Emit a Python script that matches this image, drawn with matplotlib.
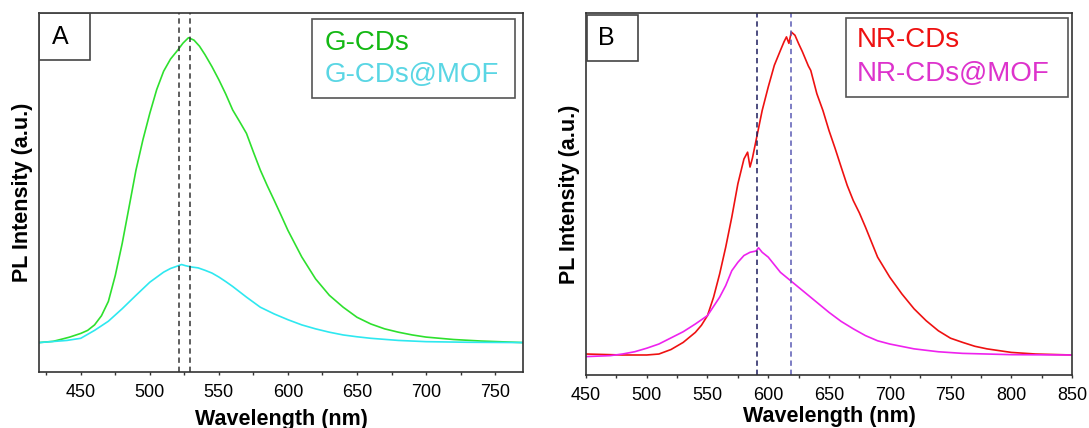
import matplotlib
matplotlib.use('Agg')
import matplotlib.pyplot as plt
from matplotlib.patches import Rectangle
from matplotlib.ticker import MultipleLocator

plt.rcParams['font.family'] = ['Liberation Sans', 'DejaVu Sans']

# --- panel A: green carbon dots, free and inside the MOF ---
wl_g = [420, 430, 437, 442, 450, 455, 460, 465, 470, 475, 480, 485, 490, 495, 500,
        505, 510, 515, 520, 524, 528, 532, 536, 540, 545, 550, 555, 560, 565, 570,
        575, 580, 585, 590, 595, 600, 610, 620, 630, 640, 650, 660, 670, 680, 690,
        700, 720, 740, 770]
g_cds = [0.000, 0.004, 0.012, 0.018, 0.030, 0.040, 0.058, 0.088, 0.135, 0.220, 0.325,
         0.445, 0.566, 0.665, 0.752, 0.830, 0.890, 0.930, 0.958, 0.982, 1.000, 0.992,
         0.972, 0.944, 0.905, 0.862, 0.815, 0.763, 0.725, 0.686, 0.625, 0.566, 0.515,
         0.467, 0.418, 0.368, 0.281, 0.209, 0.155, 0.116, 0.083, 0.061, 0.045, 0.034,
         0.025, 0.018, 0.010, 0.005, 0.000]

wl_gm = [420, 440, 450, 460, 470, 480, 490, 500, 510, 515, 520, 523, 526, 530, 535,
         540, 545, 550, 555, 560, 570, 580, 590, 600, 610, 620, 630, 640, 650, 660,
         680, 700, 730, 770]
g_cds_mof = [0.000, 0.007, 0.014, 0.040, 0.070, 0.111, 0.155, 0.198, 0.231, 0.243,
             0.251, 0.256, 0.252, 0.248, 0.245, 0.237, 0.228, 0.215, 0.200, 0.184,
             0.149, 0.116, 0.094, 0.075, 0.058, 0.045, 0.034, 0.025, 0.019, 0.014,
             0.007, 0.003, 0.001, 0.000]
peaks_a = [521, 529]

# --- panel B: near-red carbon dots, free and inside the MOF ---
wl_r = [450, 480, 500, 510, 520, 530, 540, 545, 550, 555, 560, 565, 570, 575, 580,
        583, 585, 587, 590, 595, 600, 605, 610, 613, 615, 617, 619, 622, 625,
        628, 630, 633, 635, 640, 645, 650, 655, 660, 665, 670, 675, 680, 690, 700,
        710, 720, 730, 740, 750, 760, 770, 780, 800, 820, 850]
nr_cds = [0.003, 0.000, 0.000, 0.003, 0.017, 0.039, 0.070, 0.092, 0.122, 0.179, 0.251,
          0.334, 0.427, 0.530, 0.607, 0.628, 0.582, 0.610, 0.665, 0.757, 0.830,
          0.897, 0.943, 0.970, 0.985, 0.965, 1.000, 0.990, 0.964, 0.940, 0.922, 0.895,
          0.881, 0.809, 0.757, 0.695, 0.640, 0.582, 0.525, 0.478, 0.440, 0.396, 0.303,
          0.241, 0.189, 0.143, 0.106, 0.075, 0.052, 0.039, 0.027, 0.019, 0.008, 0.003,
          0.000]

wl_rm = [450, 470, 480, 490, 500, 510, 520, 530, 540, 550, 560, 565, 570, 575, 580,
         585, 590, 592, 595, 600, 610, 620, 630, 640, 650, 660, 670, 680, 690, 700,
         720, 740, 760, 800, 850]
nr_cds_mof = [-0.005, -0.002, 0.003, 0.010, 0.021, 0.034, 0.053, 0.072, 0.096, 0.122,
              0.179, 0.215, 0.261, 0.287, 0.308, 0.318, 0.322, 0.332, 0.318, 0.303,
              0.256, 0.225, 0.194, 0.163, 0.132, 0.104, 0.081, 0.060, 0.044, 0.034,
              0.019, 0.010, 0.005, 0.001, 0.000]
peaks_b = [591, 619]

fig = plt.figure(figsize=(10.89, 4.28), dpi=100)
ax_a = fig.add_axes([0.0361, 0.1308, 0.4439, 0.8388])
ax_b = fig.add_axes([0.5381, 0.1238, 0.4463, 0.8451])


def style_axes(ax, xlim, ylim, xlab_y, ylab_x):
    ax.set_xlim(xlim)
    ax.set_ylim(ylim)
    ax.xaxis.set_major_locator(MultipleLocator(50))
    ax.xaxis.set_minor_locator(MultipleLocator(25))
    ax.set_yticks([])
    ax.tick_params(axis='x', which='major', direction='out', length=2.3, width=1,
                   labelsize=13, pad=6, color='#333333')
    ax.tick_params(axis='x', which='minor', direction='out', length=2.0, width=1,
                   color='#333333')
    for sp in ax.spines.values():
        sp.set_linewidth(1.2)
        sp.set_color('#333333')
    ax.set_xlabel('Wavelength (nm)', fontsize=15.5, fontweight='bold')
    ax.set_ylabel('PL Intensity (a.u.)', fontsize=15.5, fontweight='bold')
    ax.xaxis.set_label_coords(0.5, xlab_y)
    ax.yaxis.set_label_coords(ylab_x, 0.5)


def legend_box(ax, box, xt, ys, labels, colors):
    x0, y0, x1, y1 = box
    ax.add_patch(Rectangle((x0, y0), x1 - x0, y1 - y0, transform=ax.transAxes,
                           fill=False, edgecolor='#555555', lw=1.2, zorder=5))
    for y, lab, c in zip(ys, labels, colors):
        ax.text(xt, y, lab, transform=ax.transAxes, fontsize=20, color=c,
                ha='left', va='center', zorder=6)


def panel_tag(ax, box, xy, letter):
    x0, y0, x1, y1 = box
    ax.add_patch(Rectangle((x0, y0), x1 - x0, y1 - y0, transform=ax.transAxes,
                           fill=False, edgecolor='#444444', lw=1.2, zorder=5))
    ax.text(xy[0], xy[1], letter, transform=ax.transAxes,
            fontsize=18, ha='center', va='center', zorder=6)


# panel A
ax_a.plot(wl_g, g_cds, color='#2ee02e', lw=1.2)
ax_a.plot(wl_gm, g_cds_mof, color='#2ee8f0', lw=1.2)
for p in peaks_a:
    ax_a.axvline(p, color='#333333', lw=1.1, dashes=(3.5, 2.5))
style_axes(ax_a, (420, 770), (-0.0966, 1.081), -0.103, -0.0134)
legend_box(ax_a, (0.5635, 0.763, 0.985, 0.983), 0.591, [0.917, 0.827],
           ['G-CDs', 'G-CDs@MOF'], ['#14b814', '#5ad6e4'])
panel_tag(ax_a, (0.0, 0.869, 0.105, 1.0), (0.043, 0.933), 'A')

# panel B
ax_b.plot(wl_r, nr_cds, color='#ee1111', lw=1.2)
ax_b.plot(wl_rm, nr_cds_mof, color='#ee22ee', lw=1.2)
ax_b.axvline(peaks_b[0], color='#1c1c5e', lw=1.1, dashes=(3.5, 2.5))
ax_b.axvline(peaks_b[1], color='#5a5ab4', lw=1.1, dashes=(3.5, 2.5))
style_axes(ax_b, (450, 850), (-0.062, 1.058), -0.087, -0.0121)
legend_box(ax_b, (0.536, 0.769, 0.991, 0.987), 0.557, [0.926, 0.832],
           ['NR-CDs', 'NR-CDs@MOF'], ['#ee1111', '#dd33cc'])
panel_tag(ax_b, (0.002, 0.869, 0.108, 0.995), (0.0425, 0.931), 'B')

fig.savefig('out.png', dpi=100)
